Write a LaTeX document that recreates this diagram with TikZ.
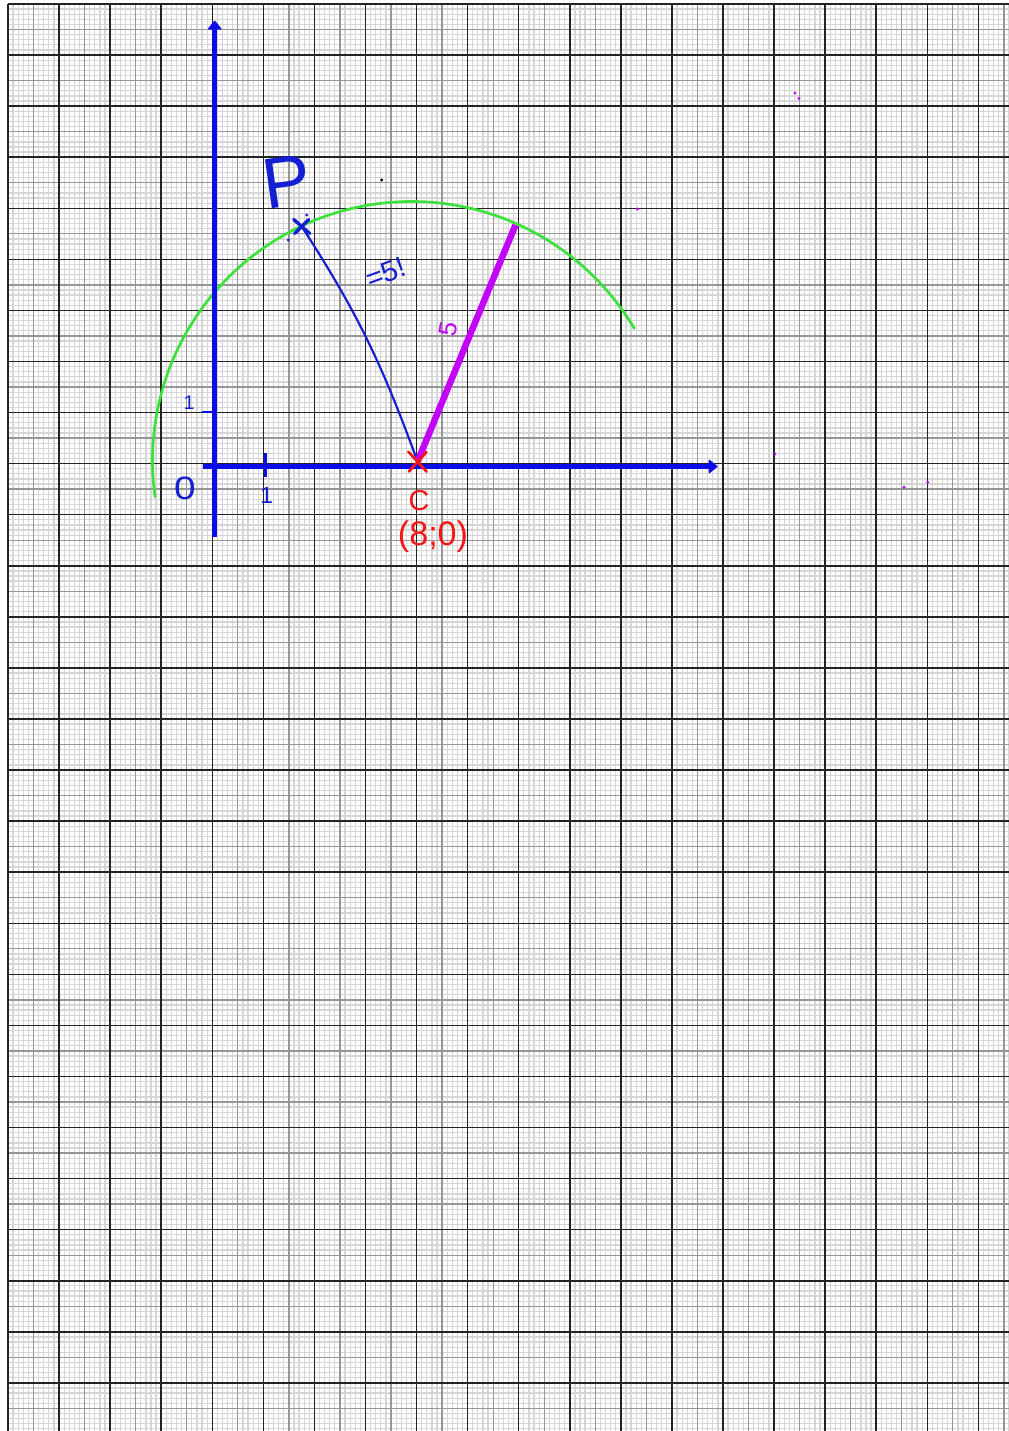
\documentclass[tikz,border=0pt]{standalone}
\usepackage{fontspec}
\setmainfont{Liberation Sans}
\usetikzlibrary{arrows.meta,calc}
\definecolor{axisblue}{RGB}{12,12,235}
\definecolor{penblue}{RGB}{20,30,210}
\definecolor{arcgreen}{RGB}{60,225,60}
\definecolor{penmagenta}{RGB}{195,0,250}
\definecolor{penred}{RGB}{250,20,20}
\definecolor{minorgrid}{RGB}{214,214,214}
\definecolor{midgrid}{RGB}{150,150,150}
\definecolor{majorgrid}{RGB}{35,35,35}
\begin{document}
\begin{tikzpicture}[x=0.55713pt,y=-0.55713pt,
  minorline/.style={draw=minorgrid,line width=0.7pt},
  midline/.style={draw=midgrid,line width=0.75pt},
  majorline/.style={draw=majorgrid,line width=0.85pt},
  axisline/.style={draw=axisblue,line width=3.1pt,
    -{Triangle[length=5.2pt,width=8.2pt,round,line width=0.8pt]}},
  tickline/.style={draw=axisblue,line width=1.3pt},
  xtickline/.style={draw=axisblue,line width=1.8pt},
  radiusline/.style={draw=penblue,line width=1.2pt,line cap=round,line join=round},
  crossblue/.style={draw=penblue,line width=1.9pt,line cap=round},
  crossred/.style={draw=penred,line width=1.5pt,line cap=round},
  arcline/.style={draw=arcgreen,line width=1.5pt,line cap=round},
  magline/.style={draw=penmagenta,line width=3.6pt},
  bluetext/.style={text=penblue,inner sep=0pt},
  redtext/.style={text=penred,inner sep=0pt},
  magtext/.style={text=penmagenta,inner sep=0pt},
  speck/.style={inner sep=0pt,minimum size=1.8pt,circle}]
\useasboundingbox (0,0) rectangle (1009,1431);
\fill[white] (0,0) rectangle (1009,1431);
% graph paper
\begin{scope}
\clip (7,3) rectangle (1009,1431);
\foreach \i in {0,...,196} \draw[minorline] ({8+\i*5.107},4) -- ({8+\i*5.107},1431);
\foreach \j in {0,...,280} \draw[minorline] (8,{4+\j*5.107}) -- (1009,{4+\j*5.107});
\foreach \i in {0,...,19} \draw[midline] ({8+(\i+0.5)*51.07},4) -- ({8+(\i+0.5)*51.07},1431);
\foreach \j in {0,...,27} \draw[midline] (8,{4+(\j+0.5)*51.07}) -- (1009,{4+(\j+0.5)*51.07});
\foreach \i in {0,...,19} \draw[majorline] ({8+\i*51.07},4) -- ({8+\i*51.07},1431);
\foreach \j in {0,...,27} \draw[majorline] (8,{4+\j*51.07}) -- (1009,{4+\j*51.07});
\end{scope}
% key points
\coordinate (ybot) at (214.7,537);
\coordinate (ytop) at (214.7,20.7);
\coordinate (xleft) at (203,466.5);
\coordinate (xright) at (717.5,466.5);
\coordinate (C) at (417.5,461.5);
\coordinate (P) at (301.7,226.5);
\coordinate (M) at (515.5,225);
\coordinate (ytickA) at (201.7,411.7);
\coordinate (ytickB) at (214,411.7);
\coordinate (xtickA) at (265.5,453.3);
\coordinate (xtickB) at (265.5,476.5);
% green circle arc (centre ~C, radius 5)
\draw[arcline] plot[domain=171.9:329.3,samples=120,smooth] ({411.5+259*cos(\x)},{460.5+259*sin(\x)});
% axes
\draw[axisline] (ybot) -- (ytop);
\draw[axisline] (xleft) -- (xright);
\draw[tickline] (ytickA) -- (ytickB);
\draw[xtickline] (xtickA) -- (xtickB);
% segment P--C and radius
\draw[radiusline] (P) to[out=-57,in=110] (C);
\draw[magline] (C) -- (M);
% crosses
\draw[crossblue] ($(P)+(-8,-7)$) -- ($(P)+(8,7)$);
\draw[crossblue] ($(P)+(-7,7)$) -- ($(P)+(7,-7)$);
\draw[crossred] (408.3,451.7) -- (426.7,471.7);
\draw[crossred] (426.5,452) -- (409,471.5);
% labels
\node[bluetext,rotate=20,font=\fontsize{16}{16}\selectfont] (lbleq) at (386,273) {=5!};
\node[bluetext,rotate=8,font=\fontsize{40}{40}\selectfont] (lblP) at (287,182) {P};
\node[magtext,rotate=80,font=\fontsize{14}{14}\selectfont] (lblfive) at (448.5,329) {5};
\node[bluetext,xscale=1.2,font=\fontsize{18}{18}\selectfont] (lblzero) at (185,488) {0};
\node[bluetext,font=\fontsize{13}{13}\selectfont] (lbloneX) at (266.5,495) {1};
\node[bluetext,font=\fontsize{11}{11}\selectfont] (lbloneY) at (189,402.5) {1};
\node[redtext,font=\fontsize{16}{16}\selectfont] (lblC) at (419,501) {C};
\node[redtext,font=\fontsize{19}{19}\selectfont] (lblCoord) at (433,537) {(8;0)};
% specks
\node[speck,fill=penmagenta] (s1) at (795,93) {};
\node[speck,fill=penmagenta] (s2) at (799,98.5) {};
\node[speck,fill=penmagenta] (s3) at (637.5,209) {};
\node[speck,fill=penmagenta] (s4) at (775,454) {};
\node[speck,fill=penmagenta] (s5) at (904,487.3) {};
\node[speck,fill=penmagenta] (s6) at (927.7,482.3) {};
\node[speck,fill=black] (s7) at (381.7,180) {};
\node[speck,fill=penblue] (s8) at (288.3,240) {};
\node[speck,fill=penblue] (s9) at (306.7,215) {};
\end{tikzpicture}
\end{document}
